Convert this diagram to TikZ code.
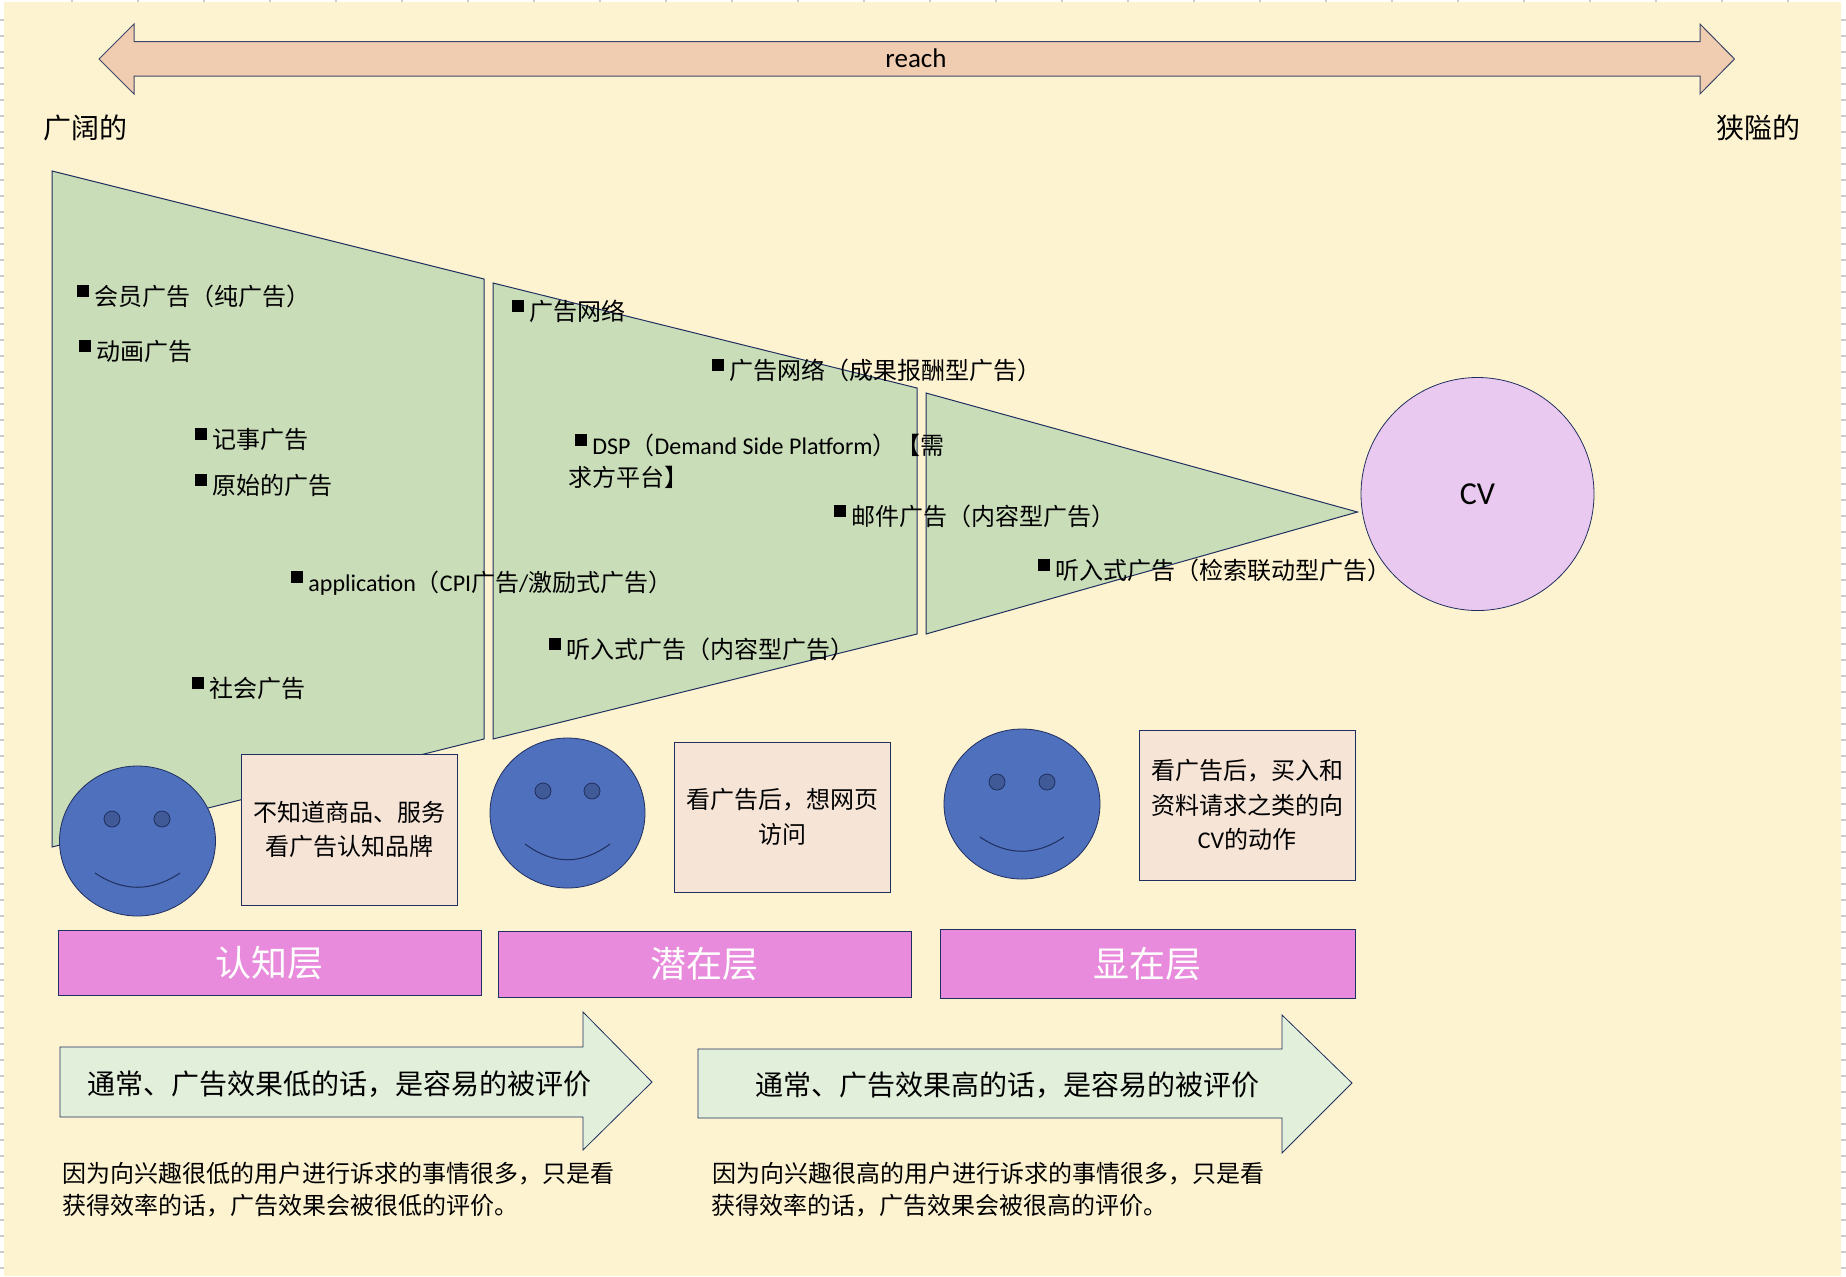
\documentclass[tikz,border=0pt]{standalone}
\usepackage{fontspec}
\setmainfont{Carlito}
\newfontfamily\cjk{Noto Sans CJK SC}
\usetikzlibrary{shapes.geometric,calc}
\definecolor{paper}{HTML}{FEF3D1}
\definecolor{funnel}{HTML}{C9DDB8}
\definecolor{peach}{HTML}{F0CCB0}
\definecolor{lilac}{HTML}{E9C9F0}
\definecolor{faceblue}{HTML}{4F70BC}
\definecolor{eyeblue}{HTML}{3F5A97}
\definecolor{note}{HTML}{F6E4D7}
\definecolor{pink}{HTML}{E98BDC}
\definecolor{mint}{HTML}{E2EFDA}
\definecolor{edge}{HTML}{1F2F5F}
\newcommand{\bul}{\raisebox{4pt}{\rule{6pt}{6pt}}\hspace{2.5pt}}

\begin{document}
\begin{tikzpicture}[
x=0.5pt,y=-0.5pt,
stage/.style={
  draw=edge,
  fill=funnel,
  line width=0.5pt
},
item/.style={
  anchor=west,
  inner sep=0pt,
  font=\fontsize{12}{14}\selectfont
},
caption/.style={
  anchor=west,
  inner sep=0pt,
  font=\fontsize{12}{14}\selectfont\cjk
},
face/.style={
  draw=edge,
  fill=faceblue,
  ellipse,
  line width=0.4pt,
  inner sep=0pt
},
eye/.style={
  draw=edge,
  fill=eyeblue,
  circle,
  line width=0.4pt,
  inner sep=0pt,
  minimum size=8pt
},
smile/.style={
  draw=edge,
  line width=0.5pt
},
notebox/.style={
  draw=edge,
  fill=note,
  line width=0.5pt,
  align=center,
  inner sep=0pt,
  font=\fontsize{12}{17.3}\selectfont\cjk,
  execute at begin node={\rule{0pt}{15.5pt}}
},
layer/.style={
  draw=edge,
  fill=pink,
  line width=0.5pt,
  text=white,
  inner sep=0pt,
  font=\fontsize{18}{20}\selectfont\cjk
},
flow/.style={
  draw=edge,
  fill=mint,
  line width=0.4pt
},
flowtext/.style={
  inner sep=0pt,
  font=\fontsize{14}{16}\selectfont\cjk
}
]
\useasboundingbox (0,0) rectangle (1846,1276);
\fill[white] (0,0) rectangle (1846,1276);
\fill[paper] (4,2) rectangle (1841,1276);
% sheet ticks round the edge
\draw[black!20,line width=1pt,dash pattern=on 1pt off 32pt] (71,1) -- (1846,1);
\draw[black!20,line width=2pt,dash pattern=on 1pt off 7pt] (2,19) -- (2,1276);
\draw[black!20,line width=2.5pt,dash pattern=on 1pt off 7pt] (1843.5,19) -- (1843.5,1276);

% reach arrow
\draw[draw=edge!70!gray,fill=peach,line width=0.5pt] (99,59) -- (134,24) -- (134,41.5) -- (1700,41.5) -- (1700,24) -- (1734.5,59) -- (1700,94) -- (1700,76) -- (134,76) -- (134,94) -- cycle;
\node[inner sep=0pt,font=\fontsize{13.5}{16}\selectfont] (reach) at (916,58) {reach};
\node[inner sep=0pt,anchor=west,font=\fontsize{14}{16}\selectfont\cjk] (wide) at (43,128) {广阔的};
\node[inner sep=0pt,anchor=west,font=\fontsize{14}{16}\selectfont\cjk] (narrow) at (1716,128) {狭隘的};

% funnel
\draw[stage] (52,171) -- (484,279) -- (484,739) -- (52,847) -- cycle;
\draw[stage] (493,283) -- (917,388) -- (917,634) -- (493,739) -- cycle;
\draw[stage] (926,393) -- (1357.5,512) -- (926,634) -- cycle;
\node[draw=edge,fill=lilac,circle,line width=0.4pt,minimum size=116.5pt,inner sep=0pt,font=\fontsize{16}{18}\selectfont] (cv) at (1477.5,494) {CV};

% first stage items
\node[item] (member) at (77,296) {\bul\cjk 会员广告（纯广告）};
\node[item] (video) at (79,351) {\bul\cjk 动画广告};
\node[item] (article) at (195,439) {\bul\cjk 记事广告};
\node[item] (native) at (195,485) {\bul\cjk 原始的广告};
\node[item] (app) at (291,583) {\bul application{\cjk （}CPI{\cjk 广告}/{\cjk 激励式广告）}};
\node[item] (social) at (192,688) {\bul\cjk 社会广告};

% second stage items
\node[item] (net) at (512,311) {\bul\cjk 广告网络};
\node[item] (netcv) at (712,370) {\bul\cjk 广告网络（成果报酬型广告）};
\node[item] (dsp) at (575,445) {\bul DSP{\cjk （}Demand Side Platform{\cjk ）【需}};
\node[caption] (dspb) at (568,477) {求方平台】};
\node[item] (mail) at (834,516) {\bul\cjk 邮件广告（内容型广告）};
\node[item] (audio) at (549,649) {\bul\cjk 听入式广告（内容型广告）};

% third stage item
\node[item] (search) at (1038,570) {\bul\cjk 听入式广告（检索联动型广告）};

% faces
\node[face,minimum width=78pt,minimum height=75pt] (face1) at (137.5,841) {};
\node[eye] (eye1l) at ($(face1)+(-25.5,-22)$) {};
\node[eye] (eye1r) at ($(face1)+(24.5,-22)$) {};
\draw[smile] ($(face1)+(-42.5,32)$) .. controls ($(face1)+(-14,51)$) and ($(face1)+(14,51)$) .. ($(face1)+(42.5,32)$);

\node[face,minimum width=77.5pt,minimum height=75pt] (face2) at (567.5,813) {};
\node[eye] (eye2l) at ($(face2)+(-24.5,-22)$) {};
\node[eye] (eye2r) at ($(face2)+(24.5,-22)$) {};
\draw[smile] ($(face2)+(-42.5,31)$) .. controls ($(face2)+(-14,52)$) and ($(face2)+(14,52)$) .. ($(face2)+(42.5,31)$);

\node[face,minimum width=78pt,minimum height=75pt] (face3) at (1022,804) {};
\node[eye] (eye3l) at ($(face3)+(-25,-22)$) {};
\node[eye] (eye3r) at ($(face3)+(25,-22)$) {};
\draw[smile] ($(face3)+(-42,33)$) .. controls ($(face3)+(-14,52)$) and ($(face3)+(14,52)$) .. ($(face3)+(42,33)$);

% notes
\node[notebox,minimum width=108pt,minimum height=75.5pt] (note1) at (349,829.5) {不知道商品、服务\\看广告认知品牌};
\node[notebox,minimum width=108pt,minimum height=75pt] (note2) at (782,817) {看广告后，想网页\\访问};
\node[notebox,minimum width=108pt,minimum height=75pt] (note3) at (1247,805) {看广告后，买入和\\资料请求之类的向\\{\fontspec{Carlito}CV}的动作};

% layers
\node[layer,minimum width=211.5pt,minimum height=32.5pt] (aware) at (269.5,962.75) {认知层};
\node[layer,minimum width=206.5pt,minimum height=33pt] (latent) at (704.5,964) {潜在层};
\node[layer,minimum width=207.5pt,minimum height=34.5pt] (overt) at (1147.5,963.5) {显在层};

% verdict arrows
\draw[flow] (60,1047) -- (583,1047) -- (583,1012) -- (652,1082) -- (583,1150) -- (583,1117) -- (60,1117) -- cycle;
\node[flowtext] (low) at (339.5,1084) {通常、广告效果低的话，是容易的被评价};
\draw[flow] (698,1049) -- (1282,1049) -- (1282,1015) -- (1352,1083) -- (1282,1153) -- (1282,1118) -- (698,1118) -- cycle;
\node[flowtext] (high) at (1007,1085) {通常、广告效果高的话，是容易的被评价};

% reasons
\node[caption] (why1a) at (62,1174) {因为向兴趣很低的用户进行诉求的事情很多，只是看};
\node[caption] (why1b) at (62,1206) {获得效率的话，广告效果会被很低的评价。};
\node[caption] (why2a) at (712,1174) {因为向兴趣很高的用户进行诉求的事情很多，只是看};
\node[caption] (why2b) at (711,1206) {获得效率的话，广告效果会被很高的评价。};
\end{tikzpicture}
\end{document}
